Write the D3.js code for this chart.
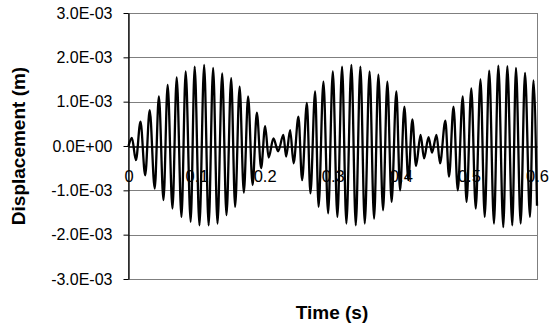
<!DOCTYPE html>
<html>
<head>
<meta charset="utf-8">
<script src="https://cdn.jsdelivr.net/npm/d3@7"></script>
<style>
  html, body { margin: 0; padding: 0; background: #fff; }
  svg { display: block; }
  text { font-family: "Liberation Sans", Arial, sans-serif; }
</style>
</head>
<body>
<svg id="chart" width="553" height="325"></svg>
<script>
// Displacement response: successive extremes of the oscillation (time in s, displacement in m)
const timeS = [
  0.0000, 0.0050, 0.0109, 0.0176, 0.0245, 0.0311, 0.0385, 0.0446, 0.0514, 0.0575,
  0.0646, 0.0708, 0.0778, 0.0840, 0.0913, 0.0972, 0.1042, 0.1111, 0.1177, 0.1243,
  0.1307, 0.1376, 0.1439, 0.1508, 0.1566, 0.1632, 0.1694, 0.1757, 0.1823, 0.1885,
  0.1948, 0.2007, 0.2058, 0.2129, 0.2198, 0.2275, 0.2315, 0.2374, 0.2425, 0.2496,
  0.2550, 0.2620, 0.2672, 0.2741, 0.2792, 0.2863, 0.2932, 0.3001, 0.3068, 0.3137,
  0.3200, 0.3274, 0.3338, 0.3406, 0.3470, 0.3541, 0.3607, 0.3670, 0.3739, 0.3802,
  0.3864, 0.3934, 0.3989, 0.4052, 0.4110, 0.4169, 0.4223, 0.4290, 0.4341, 0.4407,
  0.4458, 0.4524, 0.4576, 0.4654, 0.4708, 0.4774, 0.4836, 0.4909, 0.4965, 0.5035,
  0.5100, 0.5170, 0.5232, 0.5298, 0.5368, 0.5432, 0.5505, 0.5564, 0.5637, 0.5691,
  0.5760, 0.5824, 0.5897, 0.5948, 0.6000
];
const displacementM = [
  0, 0.18e-3, -0.32e-3, 0.55e-3, -0.66e-3, 0.81e-3, -0.96e-3, 1.12e-3, -1.22e-3, 1.38e-3,
  -1.41e-3, 1.55e-3, -1.60e-3, 1.68e-3, -1.71e-3, 1.79e-3, -1.79e-3, 1.83e-3, -1.79e-3, 1.76e-3,
  -1.75e-3, 1.64e-3, -1.56e-3, 1.53e-3, -1.37e-3, 1.34e-3, -1.05e-3, 1.12e-3, -0.88e-3, 0.75e-3,
  -0.50e-3, 0.45e-3, -0.26e-3, 0.17e-3, -0.12e-3, 0.25e-3, -0.24e-3, 0.36e-3, -0.39e-3, 0.66e-3,
  -0.77e-3, 0.97e-3, -1.07e-3, 1.23e-3, -1.37e-3, 1.45e-3, -1.52e-3, 1.68e-3, -1.60e-3, 1.79e-3,
  -1.75e-3, 1.83e-3, -1.79e-3, 1.79e-3, -1.75e-3, 1.68e-3, -1.64e-3, 1.61e-3, -1.45e-3, 1.45e-3,
  -1.26e-3, 1.23e-3, -1.00e-3, 0.89e-3, -0.77e-3, 0.60e-3, -0.45e-3, 0.25e-3, -0.28e-3, 0.20e-3,
  -0.15e-3, 0.25e-3, -0.39e-3, 0.57e-3, -0.69e-3, 0.89e-3, -1.00e-3, 1.12e-3, -1.26e-3, 1.30e-3,
  -1.41e-3, 1.50e-3, -1.60e-3, 1.70e-3, -1.75e-3, 1.81e-3, -1.83e-3, 1.80e-3, -1.79e-3, 1.76e-3,
  -1.75e-3, 1.65e-3, -1.60e-3, 1.48e-3, -1.35e-3
];

const yTickValues = [-3e-3, -2e-3, -1e-3, 0, 1e-3, 2e-3, 3e-3];
const yTickLabels = ["-3.0E-03", "-2.0E-03", "-1.0E-03", "0.0E+00", "1.0E-03", "2.0E-03", "3.0E-03"];
const xTickValues = [0, 0.1, 0.2, 0.3, 0.4, 0.5, 0.6];
const xTickLabels = ["0", "0.1", "0.2", "0.3", "0.4", "0.5", "0.6"];

const svg = d3.select("#chart");
const plot = { left: 128.5, right: 537, top: 13, bottom: 279 };

const x = d3.scaleLinear().domain([0, 0.6]).range([plot.left, plot.right]);
const y = d3.scaleLinear().domain([-3e-3, 3e-3]).range([plot.bottom, plot.top]);

// horizontal gridlines
svg.append("g")
  .selectAll("line")
  .data(yTickValues.filter(v => v !== 0))
  .join("line")
  .attr("x1", plot.left).attr("x2", plot.right)
  .attr("y1", d => Math.round(y(d)) + 0.5).attr("y2", d => Math.round(y(d)) + 0.5)
  .attr("stroke", "#7f7f7f").attr("stroke-width", 1);

// plot area frame
svg.append("rect")
  .attr("x", plot.left).attr("y", Math.round(plot.top) + 0.5)
  .attr("width", Math.round(plot.right) - plot.left + 0.5)
  .attr("height", Math.round(plot.bottom) - Math.round(plot.top))
  .attr("fill", "none").attr("stroke", "#7f7f7f").attr("stroke-width", 1);

// time axis crossing at zero displacement
const xAxis = svg.append("g")
  .attr("transform", `translate(0,${Math.round(y(0)) + 0.5})`)
  .call(d3.axisBottom(x)
    .tickValues(xTickValues)
    .tickFormat((d, i) => xTickLabels[i])
    .tickSizeInner(0).tickSizeOuter(0).tickPadding(24));
xAxis.select(".domain").attr("stroke", "#000").attr("stroke-width", 1.3);
xAxis.selectAll("text").attr("font-size", 16.5).attr("fill", "#000");

// displacement trace
const line = d3.line()
  .x((d, i) => x(timeS[i]))
  .y(d => y(d))
  .curve(d3.curveMonotoneX);

svg.append("path")
  .datum(displacementM)
  .attr("d", line)
  .attr("fill", "none")
  .attr("stroke", "#000")
  .attr("stroke-width", 2.3)
  .attr("stroke-linejoin", "round");

// displacement axis
const yAxis = svg.append("g")
  .attr("transform", `translate(${plot.left},0)`)
  .call(d3.axisLeft(y)
    .tickValues(yTickValues)
    .tickFormat((d, i) => yTickLabels[i])
    .tickSizeInner(5).tickSizeOuter(0).tickPadding(11));
yAxis.select(".domain").attr("stroke", "#000").attr("stroke-width", 1.3);
yAxis.selectAll(".tick line").attr("stroke", "#000");
yAxis.selectAll("text").attr("font-size", 16).attr("fill", "#000");

// axis titles
svg.append("text")
  .attr("x", 332).attr("y", 319)
  .attr("text-anchor", "middle")
  .attr("font-size", 19).attr("font-weight", "bold")
  .text("Time (s)");

svg.append("text")
  .attr("transform", "translate(25,146) rotate(-90)")
  .attr("text-anchor", "middle")
  .attr("font-size", 19).attr("font-weight", "bold")
  .text("Displacement (m)");
</script>
</body>
</html>
